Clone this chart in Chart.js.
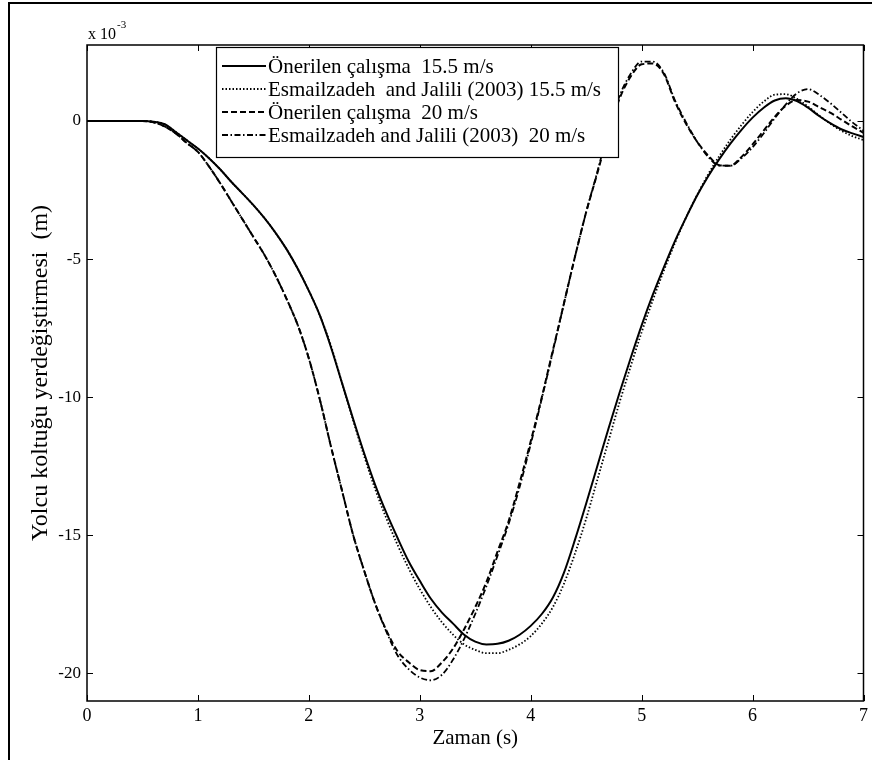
<!DOCTYPE html>
<html>
<head>
<meta charset="utf-8">
<script src="https://cdn.jsdelivr.net/npm/chart.js@4.4.1/dist/chart.umd.min.js"></script>
<style>
body { margin: 0; background: #fff; }
</style>
</head>
<body>
<canvas id="grafico" width="872" height="760"></canvas>
<script>
// Datos (desplazamiento x 10^-3 m)
const zaman = [0.0, 0.1, 0.2, 0.3, 0.4, 0.5, 0.6, 0.7, 0.8, 0.9,
               1.0, 1.1, 1.2, 1.3, 1.4, 1.5, 1.6, 1.7, 1.8, 1.9,
               2.0, 2.1, 2.2, 2.3, 2.4, 2.5, 2.6, 2.7, 2.8, 2.9,
               3.0, 3.1, 3.2, 3.3, 3.4, 3.5, 3.6, 3.7, 3.8, 3.9,
               4.0, 4.1, 4.2, 4.3, 4.4, 4.5, 4.6, 4.7, 4.8, 4.9,
               5.0, 5.1, 5.2, 5.3, 5.4, 5.5, 5.6, 5.7, 5.8, 5.9,
               6.0, 6.1, 6.2, 6.3, 6.4, 6.5, 6.6, 6.7, 6.8, 6.9, 7.0];

const onerilen155 = [0, 0, 0, 0, 0, 0, -0.03, -0.12, -0.4, -0.7,
                     -1.0, -1.35, -1.75, -2.2, -2.62, -3.05, -3.52, -4.05, -4.65, -5.35,
                     -6.15, -7.05, -8.2, -9.5, -10.8, -12.05, -13.2, -14.2, -15.1, -15.95,
                     -16.65, -17.3, -17.8, -18.2, -18.6, -18.85, -18.95, -18.93, -18.82, -18.6,
                     -18.28, -17.85, -17.25, -16.35, -15.15, -13.85, -12.5, -11.15, -9.85, -8.6,
                     -7.4, -6.3, -5.3, -4.35, -3.5, -2.7, -2.0, -1.38, -0.82, -0.32,
                     0.12, 0.48, 0.74, 0.82, 0.72, 0.48, 0.18, -0.08, -0.3, -0.45, -0.58];

const esmailzadeh155 = [0, 0, 0, 0, 0, 0, -0.03, -0.12, -0.4, -0.7,
                        -1.0, -1.35, -1.75, -2.2, -2.62, -3.05, -3.52, -4.05, -4.65, -5.35,
                        -6.15, -7.05, -8.15, -9.5, -10.85, -12.15, -13.35, -14.4, -15.35, -16.2,
                        -16.95, -17.6, -18.15, -18.6, -18.95, -19.15, -19.27, -19.27, -19.15, -18.95,
                        -18.65, -18.2, -17.6, -16.75, -15.65, -14.4, -13.0, -11.6, -10.2, -8.9,
                        -7.65, -6.5, -5.42, -4.42, -3.5, -2.68, -1.93, -1.27, -0.68, -0.15,
                        0.32, 0.7, 0.95, 0.97, 0.8, 0.52, 0.2, -0.1, -0.35, -0.55, -0.69];

const onerilen20 = [0, 0, 0, 0, 0, 0, -0.05, -0.2, -0.45, -0.8,
                    -1.12, -1.65, -2.25, -2.9, -3.55, -4.2, -4.85, -5.6, -6.45, -7.39,
                    -8.6, -10.1, -11.8, -13.4, -15.0, -16.3, -17.5, -18.45, -19.2, -19.6,
                    -19.88, -19.92, -19.6, -19.1, -18.4, -17.6, -16.7, -15.6, -14.5, -13.1,
                    -11.6, -10.0, -8.3, -6.6, -4.9, -3.3, -1.9, -0.45, 0.8, 1.6,
                    2.05, 2.08, 1.7, 0.7, -0.1, -0.75, -1.25, -1.6, -1.62, -1.3,
                    -0.85, -0.35, 0.15, 0.55, 0.76, 0.7, 0.5, 0.3, 0.05, -0.2, -0.43];

const esmailzadeh20 = [0, 0, 0, 0, 0, 0, -0.05, -0.2, -0.45, -0.8,
                       -1.12, -1.65, -2.25, -2.9, -3.55, -4.2, -4.85, -5.6, -6.45, -7.39,
                       -8.6, -10.1, -11.8, -13.4, -15.0, -16.3, -17.5, -18.5, -19.35, -19.85,
                       -20.15, -20.25, -20.05, -19.5, -18.75, -17.85, -16.85, -15.75, -14.6, -13.25,
                       -11.7, -10.05, -8.35, -6.6, -4.9, -3.3, -1.85, -0.35, 0.9, 1.7,
                       2.15, 2.15, 1.75, 0.75, -0.05, -0.75, -1.3, -1.62, -1.62, -1.35,
                       -0.95, -0.45, 0.1, 0.6, 1.0, 1.15, 0.95, 0.65, 0.3, -0.05, -0.35];

const etiquetas = ['Önerilen çalışma  15.5 m/s',
                   'Esmailzadeh  and Jalili (2003) 15.5 m/s',
                   'Önerilen çalışma  20 m/s',
                   'Esmailzadeh and Jalili (2003)  20 m/s'];

const ticksX = [0, 1, 2, 3, 4, 5, 6, 7];
const ticksY = [-20, -15, -10, -5, 0];

const fuente = "'Liberation Serif', 'Times New Roman', serif";

function puntos(serie) {
    return zaman.map((t, i) => ({ x: t, y: serie[i] }));
}

// Marco, marcas hacia dentro, leyenda y exponente
const marcoPlugin = {
    id: 'marco',
    afterDraw(chart) {
        const { ctx, chartArea: a, scales } = chart;
        ctx.save();
        ctx.strokeStyle = '#000';

        // marco exterior de la figura
        ctx.lineWidth = 2;
        ctx.beginPath();
        ctx.moveTo(9, 760);
        ctx.lineTo(9, 3);
        ctx.lineTo(872, 3);
        ctx.stroke();

        // caja de ejes
        ctx.lineWidth = 1.5;
        ctx.strokeRect(a.left, a.top, a.right - a.left, a.bottom - a.top);

        // marcas
        ctx.lineWidth = 1;
        const largo = 6;
        ticksX.forEach(v => {
            const px = Math.round(scales.x.getPixelForValue(v)) + 0.5;
            ctx.beginPath();
            ctx.moveTo(px, a.bottom); ctx.lineTo(px, a.bottom - largo);
            ctx.moveTo(px, a.top); ctx.lineTo(px, a.top + largo);
            ctx.stroke();
        });
        ticksY.forEach(v => {
            const py = Math.round(scales.y.getPixelForValue(v)) + 0.5;
            ctx.beginPath();
            ctx.moveTo(a.left, py); ctx.lineTo(a.left + largo, py);
            ctx.moveTo(a.right, py); ctx.lineTo(a.right - largo, py);
            ctx.stroke();
        });

        // exponente
        ctx.fillStyle = '#000';
        ctx.textBaseline = 'alphabetic';
        ctx.textAlign = 'left';
        ctx.font = '16px ' + fuente;
        ctx.fillText('x 10', 88, 39);
        const w = ctx.measureText('x 10').width;
        ctx.font = '11px ' + fuente;
        ctx.fillText('-3', 88 + w + 1, 28);

        // leyenda
        const caja = { x: 216, y: 47, w: 402, h: 110 };
        ctx.fillStyle = '#fff';
        ctx.fillRect(caja.x, caja.y, caja.w, caja.h);
        ctx.lineWidth = 1.2;
        ctx.strokeStyle = '#000';
        ctx.strokeRect(caja.x + 0.5, caja.y + 0.5, caja.w, caja.h);
        ctx.font = '21px ' + fuente;
        ctx.textBaseline = 'middle';
        chart.data.datasets.forEach((ds, i) => {
            const yy = 66 + i * 23;
            ctx.save();
            ctx.strokeStyle = ds.borderColor;
            ctx.lineWidth = ds.borderWidth;
            ctx.setLineDash(ds.borderDash || []);
            ctx.beginPath();
            ctx.moveTo(222, yy); ctx.lineTo(266, yy);
            ctx.stroke();
            ctx.restore();
            ctx.fillStyle = '#000';
            ctx.fillText(ds.label, 268, yy + 1);
        });
        ctx.restore();
    }
};

const ctx = document.getElementById('grafico').getContext('2d');

new Chart(ctx, {
    type: 'line',
    data: {
        datasets: [
            {
                label: etiquetas[0],
                data: puntos(onerilen155),
                borderColor: '#000',
                borderWidth: 2,
                borderDash: []
            },
            {
                label: etiquetas[1],
                data: puntos(esmailzadeh155),
                borderColor: '#000',
                borderWidth: 1.8,
                borderDash: [1.5, 2]
            },
            {
                label: etiquetas[2],
                data: puntos(onerilen20),
                borderColor: '#000',
                borderWidth: 2,
                borderDash: [6, 3]
            },
            {
                label: etiquetas[3],
                data: puntos(esmailzadeh20),
                borderColor: '#000',
                borderWidth: 1.8,
                borderDash: [6, 2.5, 1.5, 2.5]
            }
        ]
    },
    options: {
        responsive: false,
        animation: false,
        elements: {
            point: { radius: 0 },
            line: { cubicInterpolationMode: 'monotone', fill: false }
        },
        layout: {
            padding: { top: 45, right: 2, left: 0, bottom: 0 }
        },
        plugins: {
            legend: { display: false },
            tooltip: { enabled: false }
        },
        scales: {
            x: {
                type: 'linear',
                min: 0,
                max: 7,
                grid: { display: false, drawTicks: false },
                border: { display: false },
                afterBuildTicks: (s) => { s.ticks = ticksX.map(v => ({ value: v })); },
                afterFit: (s) => { s.height = 59; },
                ticks: {
                    color: '#000',
                    padding: 4,
                    maxRotation: 0,
                    font: { family: fuente, size: 18 }
                },
                title: {
                    display: true,
                    text: 'Zaman (s)',
                    color: '#000',
                    padding: { top: 0, bottom: 9 },
                    font: { family: fuente, size: 21 }
                }
            },
            y: {
                min: -21,
                max: 2.75,
                grid: { display: false, drawTicks: false },
                border: { display: false },
                afterBuildTicks: (s) => { s.ticks = ticksY.map(v => ({ value: v })); },
                afterFit: (s) => { s.width = 87; },
                ticks: {
                    color: '#000',
                    padding: 6,
                    font: { family: fuente, size: 17 },
                    callback: (v) => String(v)
                },
                title: {
                    display: true,
                    text: 'Yolcu koltuğu yerdeğiştirmesi  (m)',
                    color: '#000',
                    padding: { top: 26, bottom: 0 },
                    font: { family: fuente, size: 24 }
                }
            }
        }
    },
    plugins: [marcoPlugin]
});
</script>
</body>
</html>
